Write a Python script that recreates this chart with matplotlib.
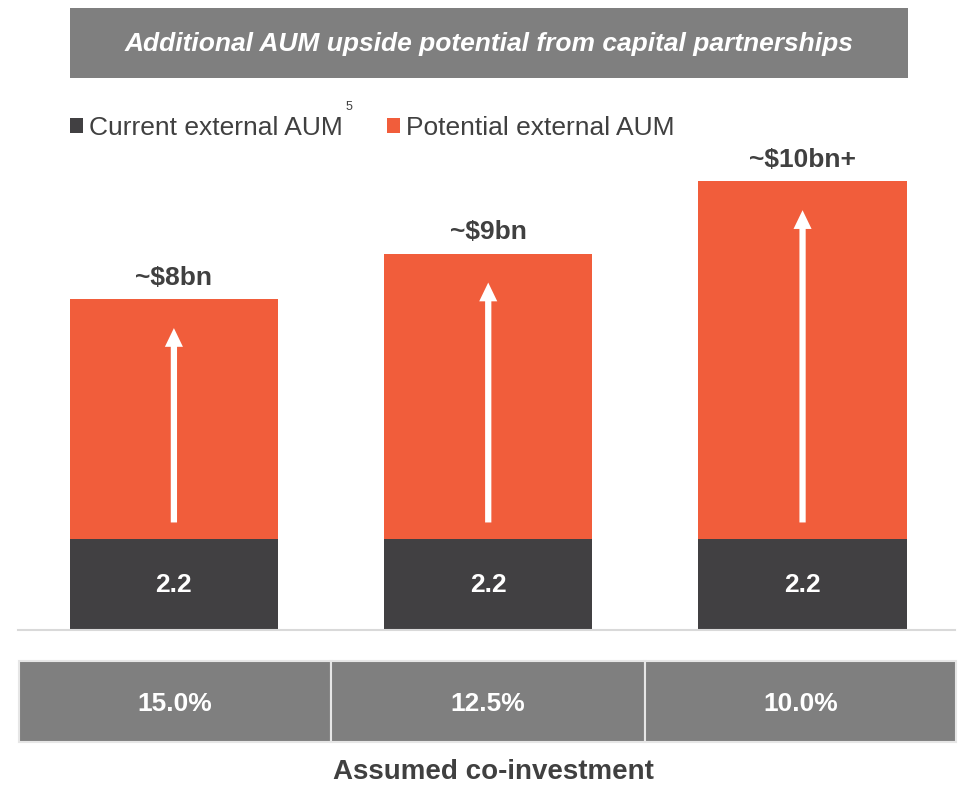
import numpy as np
import matplotlib
matplotlib.use('Agg')
import matplotlib.pyplot as plt
from matplotlib.patches import Rectangle, FancyArrowPatch

plt.rcParams['font.family'] = ['Liberation Sans', 'DejaVu Sans']

# data
co_investment = ['15.0%', '12.5%', '10.0%']
current_aum = [2.2, 2.2, 2.2]
potential_aum = [5.8, 6.9, 8.65]
total_labels = ['~$8bn', '~$9bn', '~$10bn+']

orange = '#f15d3b'
dark = '#414042'
grey = '#7f7f7f'
text_col = '#404040'

W, H = 961, 785
fig = plt.figure(figsize=(W / 100, H / 100), dpi=100)


def fx(px):
    return px / W


def fy(py):
    return 1 - py / H


# main bar axes: baseline at y=630px, x from 18 to 955px
ax = fig.add_axes([fx(18), fy(630), fx(955 - 18), fy(150) - fy(630)])
x = np.arange(len(current_aum))
b1 = ax.bar(x, current_aum, width=0.663, color=dark, label='Current external AUM')
b2 = ax.bar(x, potential_aum, width=0.663, bottom=current_aum, color=orange,
            label='Potential external AUM')
ax.set_xlim(-0.496, 2.485)
ax.set_ylim(0, 480 / 41.36)

totals = np.array(current_aum) + np.array(potential_aum)
for i in range(len(x)):
    ax.text(x[i], current_aum[i] / 2, f'{current_aum[i]:.1f}', ha='center', va='center',
            color='white', fontsize=19, fontweight='bold')
    ax.text(x[i], totals[i] + 0.52, total_labels[i], ha='center', va='center',
            color=text_col, fontsize=19, fontweight='bold')
    arr = FancyArrowPatch((x[i], current_aum[i] + 0.4), (x[i], totals[i] - 0.7),
                          arrowstyle='simple,head_length=1.35,head_width=1.3,tail_width=0.45',
                          mutation_scale=10, color='white', lw=0, shrinkA=0, shrinkB=0)
    ax.add_patch(arr)

for s in ['top', 'right', 'left']:
    ax.spines[s].set_visible(False)
ax.spines['bottom'].set_color('#d9d9d9')
ax.spines['bottom'].set_linewidth(1.5)
ax.set_xticks([])
ax.set_yticks([])

leg = ax.legend(handles=[b1, b2], loc='center left', bbox_to_anchor=(fx(57), fy(128)),
                bbox_transform=fig.transFigure, ncol=2, frameon=False, fontsize=19,
                handlelength=0.5, handleheight=0.5, handletextpad=0.2, columnspacing=1.7,
                labelcolor=text_col, borderpad=0)
fig.text(fx(349), fy(107), '5', fontsize=9, color=text_col, ha='center', va='center')

# title box
fig.patches.append(Rectangle((fx(70), fy(78)), fx(908 - 70), fy(8) - fy(78),
                             transform=fig.transFigure, facecolor=grey, edgecolor='none'))
fig.text(fx(489), fy(44), 'Additional AUM upside potential from capital partnerships',
         ha='center', va='center', color='white', fontsize=19, fontweight='bold',
         fontstyle='italic')

# co-investment boxes
edges = [19, 331, 645, 956]
for i in range(3):
    fig.patches.append(Rectangle((fx(edges[i]), fy(742)), fx(edges[i + 1] - edges[i]),
                                 fy(661) - fy(742), transform=fig.transFigure,
                                 facecolor=grey, edgecolor='#e6e6e6', linewidth=1.5))
    fig.text(fx((edges[i] + edges[i + 1]) / 2), fy(704), co_investment[i], ha='center',
             va='center', color='white', fontsize=19, fontweight='bold')

fig.text(fx(493), fy(772), 'Assumed co-investment', ha='center', va='center',
         color=text_col, fontsize=20, fontweight='bold')

fig.savefig('out.png', dpi=100)
